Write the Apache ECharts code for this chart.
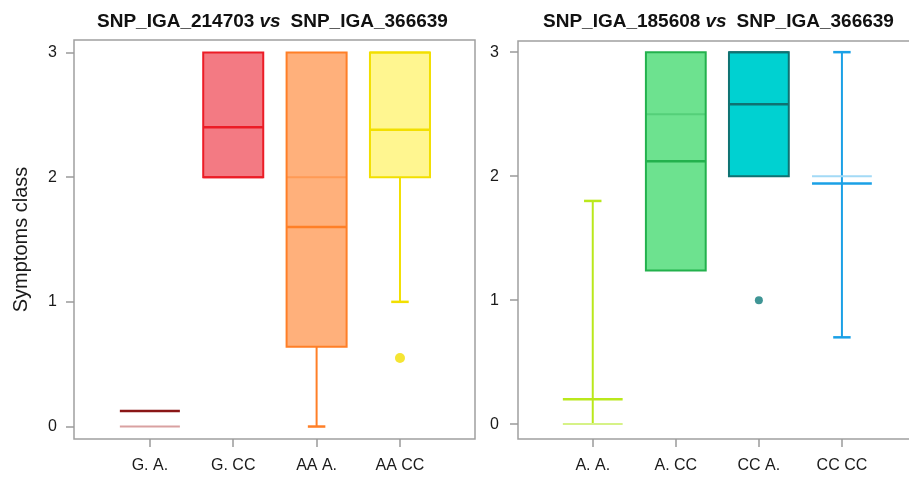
<!DOCTYPE html>
<html>
<head>
<meta charset="utf-8">
<script src="https://cdn.jsdelivr.net/npm/echarts@6/dist/echarts.min.js"></script>
<style>
  html, body { margin: 0; padding: 0; background: #fff; overflow: hidden; }
  #chart { width: 909px; height: 478px; }
</style>
</head>
<body>
<div id="chart"></div>
<script>
// Left panel: SNP_IGA_214703 vs SNP_IGA_366639
const leftCats = ['G. A.', 'G. CC', 'AA A.', 'AA CC'];
const leftLow = [0, 2, 0, 1];
const leftQ1 = [0, 2, 0.64, 2];
const leftMedian = [0, 2, 2, 3];
const leftQ3 = [0, 3, 3, 3];
const leftHigh = [0, 3, 3, 3];
const leftMean = [0.125, 2.4, 1.6, 2.38];
const leftOutliers = [[4, 0.55]];

// Right panel: SNP_IGA_185608 vs SNP_IGA_366639
const rightCats = ['A. A.', 'A. CC', 'CC A.', 'CC CC'];
const rightLow = [0, 1.24, 2, 0.7];
const rightQ1 = [0, 1.24, 2, 2];
const rightMedian = [0, 2.5, 3, 2];
const rightQ3 = [0, 3, 3, 2];
const rightHigh = [1.8, 3, 3, 3];
const rightMean = [0.2, 2.12, 2.58, 1.94];
const rightOutliers = [[3, 1]];

const yTicks = [0, 1, 2, 3];
const FONT = 'Liberation Sans, Arial, sans-serif';

// group styles: box fill, box border / whisker, median line, mean line
const leftStyle = [
  { fill: null, border: '#8A1616', median: '#D9A1A1', mean: '#8A1616' },
  { fill: '#F37A83', border: '#EC1C26', median: '#EC1C26', mean: '#EC1C26' },
  { fill: '#FFB07B', border: '#FF7F27', median: '#FF9A55', mean: '#FF7F27' },
  { fill: '#FFF690', border: '#F2DF00', median: '#F2DF00', mean: '#F2DF00' }
];
const rightStyle = [
  { fill: null, border: '#BAE81C', median: '#D6F287', mean: '#BAE81C' },
  { fill: '#6DE28F', border: '#23B14D', median: '#55CF79', mean: '#23B14D' },
  { fill: '#00D1D1', border: '#0F7272', median: '#0F7272', mean: '#0F7272' },
  { fill: null, border: '#1AA0E6', median: '#A3DAF6', mean: '#1AA0E6' }
];

function buildRows(low, q1, med, q3, high, mean) {
  return low.map((v, i) => [i + 1, v, q1[i], med[i], q3[i], high[i], mean[i]]);
}

function makeRenderer(styles) {
  return function (params, api) {
    const st = styles[params.dataIndex];
    const x = api.value(0);
    const low = api.value(1), q1 = api.value(2), med = api.value(3);
    const q3 = api.value(4), high = api.value(5), mean = api.value(6);
    const halfW = api.size([0.36, 0])[0];
    const capW = api.size([0.105, 0])[0];
    const p = (yv) => api.coord([x, yv]);
    const hline = (yv, w, color, lw) => {
      const c = p(yv);
      return { type: 'line', shape: { x1: c[0] - w, y1: c[1], x2: c[0] + w, y2: c[1] },
        style: { stroke: color, lineWidth: lw } };
    };
    const vline = (y1, y2, color) => {
      const a = p(y1), b = p(y2);
      return { type: 'line', shape: { x1: a[0], y1: a[1], x2: b[0], y2: b[1] },
        style: { stroke: color, lineWidth: 2 } };
    };
    const children = [];
    if (low < q1) children.push(vline(low, q1, st.border));
    if (high > q3) children.push(vline(q3, high, st.border));
    const top = p(q3), bot = p(q1);
    const hasBox = q3 > q1;
    if (hasBox) {
      children.push({ type: 'rect',
        shape: { x: top[0] - halfW, y: top[1], width: 2 * halfW, height: bot[1] - top[1] },
        style: { fill: st.fill, stroke: null } });
    }
    children.push(hline(med, halfW, st.median, 2));
    if (hasBox) {
      children.push({ type: 'rect',
        shape: { x: top[0] - halfW, y: top[1], width: 2 * halfW, height: bot[1] - top[1] },
        style: { fill: null, stroke: st.border, lineWidth: 2 } });
    }
    children.push(hline(mean, halfW, st.mean, 2.5));
    if (low < q1) children.push(hline(low, capW, st.border, 2.5));
    if (high > q3) children.push(hline(high, capW, st.border, 2.5));
    return { type: 'group', children: children };
  };
}

function xAxisFor(gridIndex, cats, min, max) {
  return {
    type: 'value', gridIndex: gridIndex, min: min, max: max,
    axisLine: { show: false, onZero: false },
    splitLine: { show: false },
    axisTick: { show: true, customValues: [1, 2, 3, 4], length: 8,
      lineStyle: { color: '#9a9a9a', width: 1.5 } },
    axisLabel: { customValues: [1, 2, 3, 4], margin: 19,
      formatter: (v) => cats[Math.round(v) - 1] || '',
      color: '#1a1a1a', fontSize: 16, fontFamily: FONT }
  };
}

function yAxisFor(gridIndex, min, max, name, margin) {
  return {
    type: 'value', gridIndex: gridIndex, min: min, max: max,
    name: name, nameLocation: 'middle', nameGap: 43,
    nameTextStyle: { fontSize: 20, color: '#1a1a1a', fontFamily: FONT },
    axisLine: { show: false, onZero: false },
    splitLine: { show: false },
    axisTick: { show: true, customValues: yTicks, length: 8,
      lineStyle: { color: '#9a9a9a', width: 1.5 } },
    axisLabel: { customValues: yTicks, margin: margin,
      color: '#1a1a1a', fontSize: 16, fontFamily: FONT }
  };
}

const titleRich = {
  b: { fontWeight: 'bold', fontSize: 19, color: '#111', fontFamily: FONT },
  i: { fontWeight: 'bold', fontStyle: 'italic', fontSize: 19, color: '#111', fontFamily: FONT }
};

const chart = echarts.init(document.getElementById('chart'), null, { renderer: 'canvas' });
chart.setOption({
  animation: false,
  backgroundColor: '#ffffff',
  title: [
    { left: 92, top: 7, text: '{b|SNP_IGA_214703} {i|vs}  {b|SNP_IGA_366639}',
      textStyle: { rich: titleRich } },
    { left: 538, top: 7, text: '{b|SNP_IGA_185608} {i|vs}  {b|SNP_IGA_366639}',
      textStyle: { rich: titleRich } }
  ],
  grid: [
    { left: 74, top: 40, width: 401, height: 399, show: true, outerBoundsMode: 'none',
      borderColor: '#a0a0a0', borderWidth: 1.5, backgroundColor: 'transparent' },
    // the right frame runs past the page edge, so only its left, top and bottom sides show
    { left: 518, top: 41, width: 402, height: 398, show: true, outerBoundsMode: 'none',
      borderColor: '#a0a0a0', borderWidth: 1.5, backgroundColor: 'transparent' }
  ],
  xAxis: [
    xAxisFor(0, leftCats, 0.09, 4.9),
    xAxisFor(1, rightCats, 0.1, 4.94)
  ],
  yAxis: [
    yAxisFor(0, -0.1, 3.1, 'Symptoms class', 17),
    yAxisFor(1, -0.12, 3.09, '', 19)
  ],
  series: [
    { type: 'custom', xAxisIndex: 0, yAxisIndex: 0,
      renderItem: makeRenderer(leftStyle),
      data: buildRows(leftLow, leftQ1, leftMedian, leftQ3, leftHigh, leftMean) },
    { type: 'scatter', xAxisIndex: 0, yAxisIndex: 0, symbolSize: 10,
      itemStyle: { color: '#F2DF00' }, data: leftOutliers },
    { type: 'custom', xAxisIndex: 1, yAxisIndex: 1,
      renderItem: makeRenderer(rightStyle),
      data: buildRows(rightLow, rightQ1, rightMedian, rightQ3, rightHigh, rightMean) },
    { type: 'scatter', xAxisIndex: 1, yAxisIndex: 1, symbolSize: 8,
      itemStyle: { color: '#0F7A7A' }, data: rightOutliers }
  ]
});
</script>
</body>
</html>
